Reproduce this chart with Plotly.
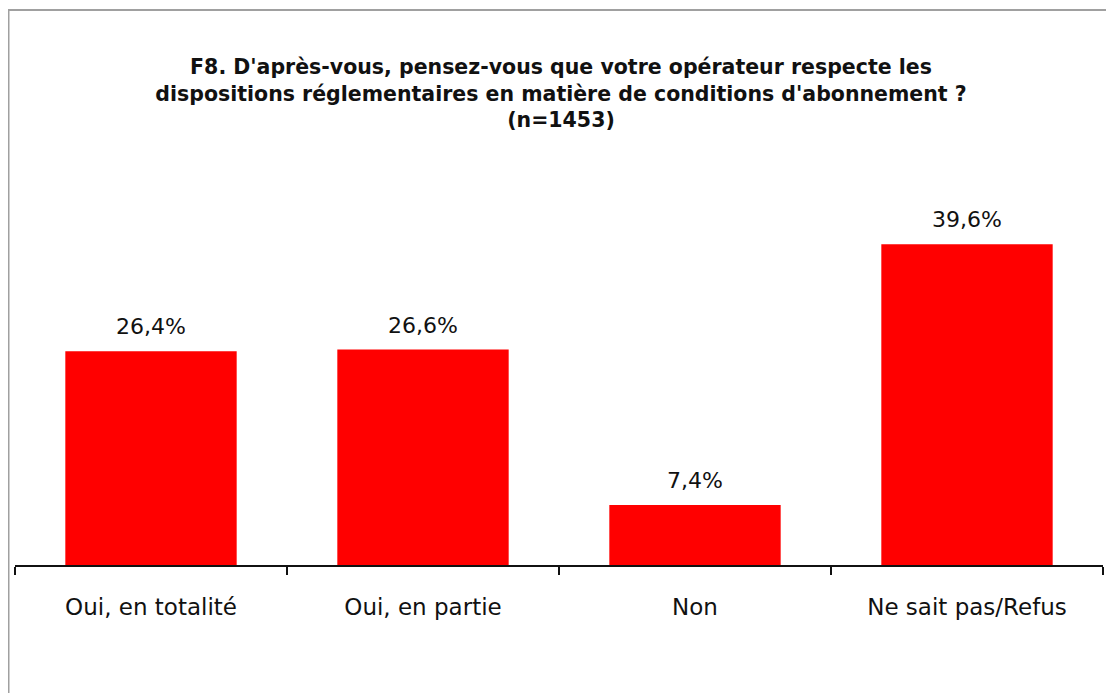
import plotly.graph_objects as go

categories = ["Oui, en totalité", "Oui, en partie", "Non", "Ne sait pas/Refus"]
values = [26.4, 26.6, 7.4, 39.6]
labels = [f"{v:.1f}%".replace(".", ",") for v in values]

title = ("<b>F8. D'après-vous, pensez-vous que votre opérateur respecte les<br>"
         "dispositions réglementaires en matière de conditions d'abonnement ?<br>"
         "(n=1453)</b>")

# the page body has an 8px margin, so the figure is drawn 8px in and 8px down
W, H = 1106, 685
ml, mr, mt, mb = 7, 11, 152, 128
pw, ph = W - ml - mr, H - mt - mb

fig = go.Figure(
    go.Bar(
        x=categories,
        y=values,
        marker=dict(color="#ff0000", line=dict(width=0)),
        showlegend=False,
        hoverinfo="skip",
    )
)

# value labels above the bars
for c, v, t in zip(categories, values, labels):
    fig.add_annotation(
        x=c, y=v, text=t, showarrow=False,
        yanchor="bottom", yshift=10,
        font=dict(family="DejaVu Sans", size=22, color="#111111"),
    )

fig.update_layout(
    width=W,
    height=H,
    margin=dict(l=ml, r=mr, t=mt, b=mb),
    paper_bgcolor="white",
    plot_bgcolor="white",
    font=dict(family="DejaVu Sans", color="#111111"),
    bargap=0.37,
    title=dict(
        text=title,
        x=0.5,
        xanchor="center",
        y=1 - 66 / H,
        yanchor="top",
        font=dict(family="DejaVu Sans", size=20.5, color="#111111"),
    ),
    xaxis=dict(
        showline=True,
        linecolor="#111111",
        linewidth=2,
        ticks="outside",
        tickson="boundaries",
        ticklen=8,
        tickwidth=2,
        tickcolor="#111111",
        tickfont=dict(size=23, color="#111111"),
        ticklabelstandoff=20,
        showgrid=False,
    ),
    yaxis=dict(
        range=[0, 50],
        visible=False,
        showgrid=False,
        zeroline=False,
    ),
    shapes=[
        dict(
            type="rect",
            xref="paper",
            yref="paper",
            x0=(0.5 - ml) / pw,
            x1=1.2,
            y0=-1,
            y1=1 + (mt - 2) / ph,
            line=dict(color="#a0a0a0", width=2),
            fillcolor="rgba(0,0,0,0)",
            layer="below",
        )
    ],
)

fig.write_html("out.html")
